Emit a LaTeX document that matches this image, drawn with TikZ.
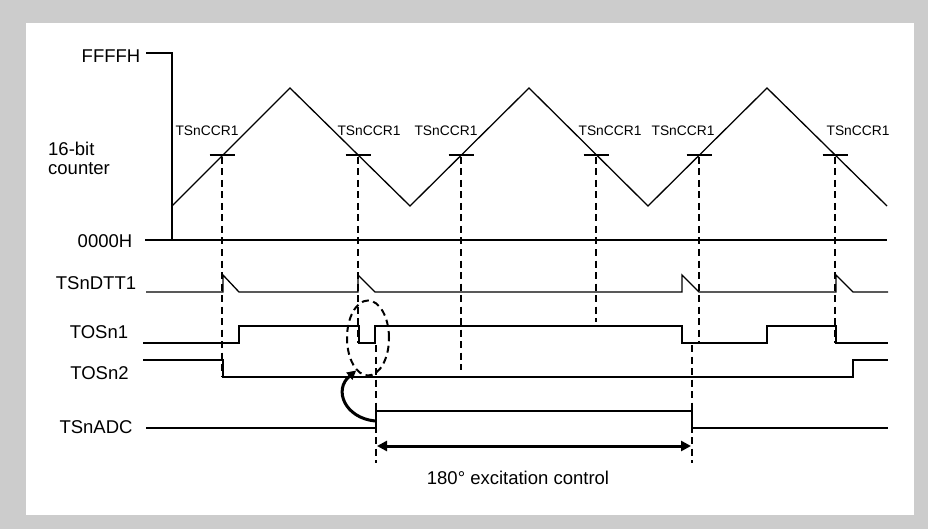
\documentclass[tikz,border=0pt]{standalone}
\usepackage{fontspec}
\setmainfont{Liberation Sans}
\usetikzlibrary{arrows.meta,shapes.geometric}
\definecolor{framegrey}{RGB}{204,204,204}
\tikzset{
  lbl/.style   = {inner sep=0pt, font=\fontsize{18.5}{20}\selectfont},
  ccr/.style   = {inner sep=0pt, font=\fontsize{13.8}{15}\selectfont},
  sig/.style   = {draw=black, line width=1.3pt, line join=miter},
  dsh/.style   = {draw=black, line width=2.6pt, dash pattern=on 7pt off 4.5pt},
  ell/.style   = {ellipse, draw=black, line width=2pt, dash pattern=on 7pt off 4.5pt,
                  inner sep=0pt, minimum width=42pt, minimum height=75pt},
  ar/.style    = {-{Triangle[length=9pt,width=9pt]}, draw=black, line width=3pt},
  dar/.style   = {{Triangle[length=10pt,width=10pt]}-{Triangle[length=10pt,width=10pt]},
                  draw=black, line width=3pt}
}
\begin{document}
\begin{tikzpicture}[x=1pt,y=-1pt]
    \fill[framegrey] (0,0) rectangle (928,529);
    \fill[white] (26,23) rectangle (914,515);
    \useasboundingbox (0,0) rectangle (928,529);

    \node[lbl] (ffff) at (111,56) {FFFFH};
    \node[lbl, anchor=west, align=left] (cnt) at (48,158) {16-bit\\[-1pt]counter};
    \node[lbl] (zero) at (105,241) {0000H};
    \node[lbl] (dtt) at (96,283) {TSnDTT1};
    \node[lbl] (os1) at (99,332) {TOSn1};
    \node[lbl] (os2) at (99.5,373) {TOSn2};
    \node[lbl] (adc) at (96,427) {TSnADC};

    \draw[sig] (146,53) -- (172,53) -- (172,240);
    \draw[sig] (145,240) -- (887,240);
    \draw[sig] (172,206) -- (290,88) -- (410,206) -- (529,88) -- (648,206) -- (767,88) -- (887,206);

    \foreach \x/\lx/\yend [count=\i] in {222/207/377, 358/369/343, 461/446/370,
                                         596/610/322, 699/683/343, 835/858/343} {
      \draw[sig] ({\x-12.5},155) -- ({\x+12.5},155);
      \node[ccr] (ccr\i) at (\lx,131) {TSnCCR1};
      \draw[dsh] (\x,157) -- (\x,\yend);
    }

    \draw[sig] (146,292) -- (223,292) -- (223,275) -- (239,292) -- (358,292) -- (358,275)
      -- (375,292) -- (682,292) -- (682,275) -- (699,292) -- (836,292) -- (836,275)
      -- (853,292) -- (888,292);
    \draw[sig] (143,343) -- (239,343) -- (239,326) -- (359,326) -- (359,343) -- (375,343)
      -- (375,326) -- (682,326) -- (682,343) -- (767,343) -- (767,326) -- (836,326)
      -- (836,343) -- (888,343);
    \draw[sig] (143,360) -- (223,360) -- (223,377) -- (853,377) -- (853,360) -- (888,360);
    \draw[sig] (146,428) -- (376,428) -- (376,411) -- (692,411) -- (692,428) -- (888,428);

    \draw[dsh] (376,345) -- (376,463);
    \draw[dsh] (692,345) -- (692,463);

    \node[ell] (ov) at (368,338) {};
    \coordinate (adcup) at (375,421);
    \draw[ar] (adcup) .. controls (345,418) and (333,390) .. (ov.250);

    \coordinate (ex1) at (377,446);
    \coordinate (ex2) at (691,446);
    \draw[dar] (ex1) -- (ex2);
    \node[lbl] (exc) at (518,478) {180° excitation control};
  \end{tikzpicture}
\end{document}
